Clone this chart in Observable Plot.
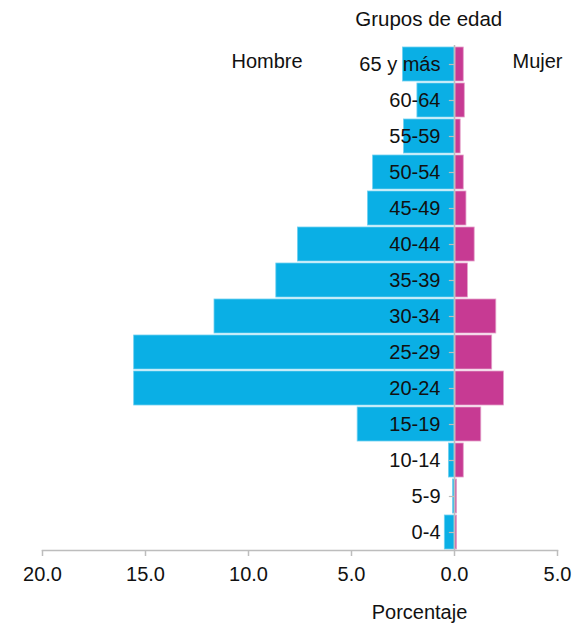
<!DOCTYPE html>
<html>
<head>
<meta charset="utf-8">
<script src="https://cdn.jsdelivr.net/npm/d3@7"></script>
<script src="https://cdn.jsdelivr.net/npm/@observablehq/plot@0.6"></script>
<style>
  html, body { margin: 0; padding: 0; background: #fff; }
  #chart svg { display: block; }
</style>
</head>
<body>
<div id="chart"></div>
<script>
const ages = ["65 y más","60-64","55-59","50-54","45-49","40-44","35-39","30-34","25-29","20-24","15-19","10-14","5-9","0-4"];
const hombre = [2.5, 1.8, 2.45, 3.95, 4.2, 7.6, 8.65, 11.65, 15.55, 15.55, 4.7, 0.27, 0.07, 0.47];
const mujer  = [0.45, 0.5, 0.3, 0.45, 0.58, 0.98, 0.65, 2.03, 1.83, 2.4, 1.3, 0.45, 0.12, 0.12];
const xTicks = [-20, -15, -10, -5, 0, 5];

const rows = ages.map((a, i) => ({age: a, hombre: hombre[i], mujer: mujer[i]}));

const BLUE = "#0aafe5";
const PINK = "#c73a93";
const GRAY = "#bdbdbd";
const FONT = "'Liberation Sans', Arial, Helvetica, sans-serif";

const chart = Plot.plot({
  width: 578,
  height: 627,
  marginTop: 45,
  marginBottom: 77,
  marginLeft: 42,
  marginRight: 21,
  style: {fontFamily: FONT, fontSize: "20px", color: "#111", background: "#fff"},
  x: {domain: [-20, 5], axis: null},
  y: {domain: ages, paddingInner: 0.06, paddingOuter: 0.03, axis: null},
  marks: [
    Plot.barX(rows, {y: "age", x1: 0, x2: d => -d.hombre, fill: BLUE, stroke: "#6fd0f1", strokeWidth: 0.8}),
    Plot.barX(rows, {y: "age", x1: 0, x2: "mujer", fill: PINK, stroke: "#e3a0c9", strokeWidth: 0.8, insetLeft: 1}),
    Plot.ruleX([0], {stroke: GRAY, strokeWidth: 1.5}),
    Plot.ruleY(rows, {y: "age", x1: -0.25, x2: 0, stroke: GRAY, strokeWidth: 1.2}),
    Plot.text(rows, {y: "age", x: 0, text: "age", dx: -14, textAnchor: "end", fill: "#111", fontSize: 20}),
    Plot.frame({anchor: "bottom", stroke: GRAY, strokeWidth: 1.5}),
    Plot.axisX({ticks: xTicks, tickFormat: d => Math.abs(d).toFixed(1), tickSize: 6, tickPadding: 10, stroke: GRAY, fill: "#111", strokeWidth: 1.5, fontSize: 20, label: null}),
    Plot.text(["Hombre"], {x: -9.1, y: [ages[0]], text: d => d, dy: -3, fill: "#111", fontSize: 20}),
    Plot.text(["Mujer"], {x: 4.03, y: [ages[0]], text: d => d, dy: -3, fill: "#111", fontSize: 20}),
    Plot.text(["Grupos de edad"], {x: -1.25, frameAnchor: "top", text: d => d, dy: -34, fill: "#111", fontSize: 20.5}),
    Plot.text(["Porcentaje"], {x: -1.7, frameAnchor: "bottom", text: d => d, dy: 68, fill: "#111", fontSize: 20})
  ]
});
document.getElementById("chart").appendChild(chart);
</script>
</body>
</html>
